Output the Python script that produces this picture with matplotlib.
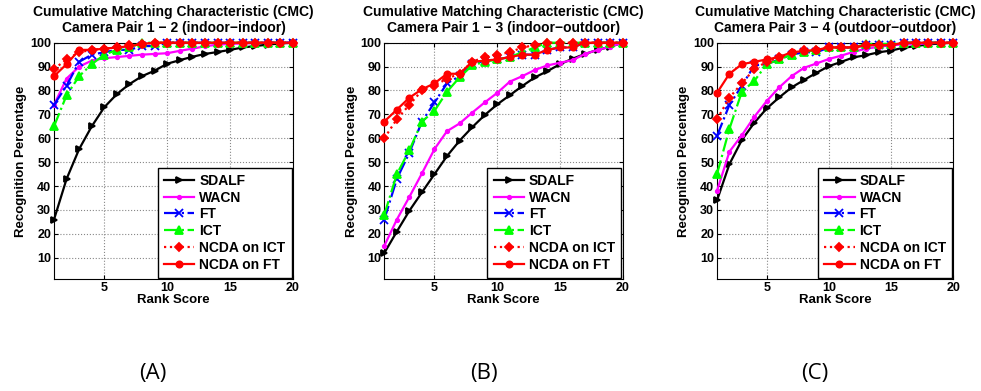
import numpy as np
import matplotlib
matplotlib.use("Agg")
import matplotlib.pyplot as plt

plt.rcParams['font.family'] = ['Liberation Sans', 'DejaVu Sans']

ranks = list(range(1, 21))

# Camera pair 1 - 2 (indoor-indoor)
sdalf_a = [26, 43, 55.5, 65, 73, 78.5, 82.7, 86, 88.3, 91.2, 92.7, 94.1, 95.3, 96.1, 97, 98, 98.6, 99.2, 99.7, 100]
wacn_a = [74, 85, 90, 92.5, 93.5, 94, 94.5, 95, 95.3, 95.6, 96.6, 97.5, 98.5, 99.2, 99.5, 99.7, 99.8, 100, 100, 100]
ft_a = [74, 82, 92, 95, 96, 97, 97, 98.6, 98.6, 100, 100, 100, 100, 100, 100, 100, 100, 100, 100, 100]
ict_a = [65, 78, 86, 91, 95, 97, 98, 100, 100, 100, 100, 100, 100, 100, 100, 100, 100, 100, 100, 100]
ncda_ict_a = [89, 93, 96, 97, 97.5, 98, 99, 99.5, 100, 100, 100, 100, 100, 100, 100, 100, 100, 100, 100, 100]
ncda_ft_a = [86, 91, 97, 97, 97.5, 98, 98.5, 99.5, 100, 100, 100, 100, 100, 100, 100, 100, 100, 100, 100, 100]

# Camera pair 1 - 3 (indoor-outdoor)
sdalf_b = [12, 21, 29.7, 37.4, 45, 52.6, 59, 64.6, 69.7, 74.2, 78, 81.9, 85.5, 88.1, 91, 93.3, 95.3, 97, 98.3, 100]
wacn_b = [15, 26, 35.5, 45.3, 55.5, 63, 66.2, 70.7, 75, 79, 83.7, 86, 88.6, 90.5, 91.6, 92.7, 95.3, 97, 98.3, 100]
ft_b = [26, 43, 54, 67, 75, 83, 86, 91, 92.5, 93, 94, 95, 95, 97, 98, 98, 100, 100, 100, 100]
ict_b = [28, 45, 55, 67, 71.5, 79.5, 85.5, 90.5, 92, 93, 94, 96, 98, 100, 100, 100, 100, 100, 100, 100]
ncda_ict_b = [60, 68, 74, 80, 82, 85, 87, 92, 94, 95, 96, 98, 99, 100, 100, 100, 100, 100, 100, 100]
ncda_ft_b = [67, 72, 77, 80.5, 83, 87, 87, 92, 92.5, 93, 94, 95, 95, 97, 98, 98, 100, 100, 100, 100]

# Camera pair 3 - 4 (outdoor-outdoor)
sdalf_c = [34, 49.2, 59.3, 66.5, 72.5, 77.1, 81.3, 84.4, 87.4, 90.2, 92, 93.9, 94.8, 96, 96.7, 97.9, 98.6, 99.3, 99.7, 100]
wacn_c = [38, 54.4, 61.3, 69, 75.6, 81.3, 86, 89.5, 91.3, 93.2, 94.6, 96.2, 97.5, 98.3, 98.9, 99.3, 99.5, 99.7, 100, 100]
ft_c = [61, 74, 82, 90.5, 91, 93, 95, 96, 96, 98, 98, 98, 99, 99, 99, 100, 100, 100, 100, 100]
ict_c = [45, 64, 79.5, 84, 91, 93, 95, 96, 97, 98, 98, 98, 99.5, 99.5, 99.5, 100, 100, 100, 100, 100]
ncda_ict_c = [68, 77, 83, 89, 92, 94, 95.5, 97, 97, 98, 98, 98, 99, 99, 99, 100, 100, 100, 100, 100]
ncda_ft_c = [79, 87, 91, 92, 93, 94, 96, 96.5, 97, 98, 98, 98, 99, 99, 99, 100, 100, 100, 100, 100]

pair_titles = ["Camera Pair 1 \u2212 2 (indoor\u2212indoor)",
               "Camera Pair 1 \u2212 3 (indoor\u2212outdoor)",
               "Camera Pair 3 \u2212 4 (outdoor\u2212outdoor)"]
panel_labels = ["(A)", "(B)", "(C)"]
method_names = ["SDALF", "WACN", "FT", "ICT", "NCDA on ICT", "NCDA on FT"]

panels = [
    [sdalf_a, wacn_a, ft_a, ict_a, ncda_ict_a, ncda_ft_a],
    [sdalf_b, wacn_b, ft_b, ict_b, ncda_ict_b, ncda_ft_b],
    [sdalf_c, wacn_c, ft_c, ict_c, ncda_ict_c, ncda_ft_c],
]

# style per method: color, linestyle, marker, markersize
styles = [
    ('black', '-', '>', 5),
    ('magenta', '-', '.', 5),
    ('blue', '-.', 'x', 6),
    ('#00ff00', '-.', '^', 6),
    ('red', ':', 'D', 4),
    ('red', '-', 'o', 4.5),
]

fig = plt.figure(figsize=(9.81, 3.91), dpi=100)
lefts = [54 / 981, 384.3 / 981, 717 / 981]
widths = [239 / 981, 238.4 / 981, 236.3 / 981]
label_x = [153 / 981, 484 / 981, 815 / 981]

for i, series in enumerate(panels):
    ax = fig.add_axes([lefts[i], 1 - 279.3 / 391, widths[i], 236.6 / 391])
    for name, vals, (c, ls, m, ms) in zip(method_names, series, styles):
        ax.plot(ranks, vals, color=c, linestyle=ls, marker=m, markersize=ms,
                linewidth=1.6, markerfacecolor=c, markeredgecolor=c,
                markeredgewidth=1.3, label=name, clip_on=False, zorder=3)
    ax.set_xlim(1, 20)
    ax.set_ylim(1, 100)
    ax.set_xticks([5, 10, 15, 20])
    ax.set_yticks(range(10, 101, 10))
    ax.grid(True, linestyle=':', color='#888888', linewidth=0.8)
    ax.tick_params(direction='in', top=True, right=True, labelsize=9,
                   length=3, pad=2)
    for lab in ax.get_xticklabels() + ax.get_yticklabels():
        lab.set_fontweight('bold')
    ax.set_xlabel("Rank Score", fontsize=9.5, fontweight='bold', labelpad=0)
    ax.set_ylabel("Recognition Percentage", fontsize=9.5, fontweight='bold', labelpad=2)
    ax.set_title("Cumulative Matching Characteristic (CMC)\n" + pair_titles[i],
                 fontsize=10, fontweight='bold', pad=8, linespacing=1.15)
    leg = ax.legend(loc='lower right', prop={'weight': 'bold', 'size': 10},
                    handlelength=2.2, labelspacing=0.2, borderaxespad=0.1,
                    borderpad=0.45, handletextpad=0.35, fancybox=False,
                    framealpha=1, edgecolor='black')
    leg.get_frame().set_linewidth(1.0)
    leg.set_zorder(5)
    fig.text(label_x[i], 1 - 373 / 391, panel_labels[i], fontsize=16,
             ha='center', va='center', family=['Open Sans', 'DejaVu Sans'])

fig.savefig("out.png", dpi=100)
